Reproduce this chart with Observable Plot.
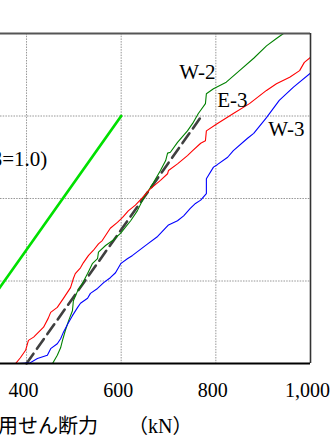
<!DOCTYPE html>
<html>
<head>
<meta charset="utf-8">
<script src="https://cdn.jsdelivr.net/npm/d3@7"></script>
<script src="https://cdn.jsdelivr.net/npm/@observablehq/plot@0.6"></script>
<style>
  html, body { margin: 0; padding: 0; background: white; overflow: hidden; }
  #title { position: relative; margin-left: -22px; height: 32px; line-height: 32px;
           font-family: "Liberation Serif", "Noto Sans CJK JP", serif; font-size: 20px;
           white-space: pre; color: #000; }
</style>
</head>
<body>
<div id="chart"></div>
<div id="title">作用せん断力　　（kN）</div>
<script>
// x: 作用せん断力 (kN), y: unitless response (axis cut off at left)
const xTicks = [400, 600, 800, 1000];
const xGrid = [400, 600, 800];
const yGrid = [1, 2, 3];

const w2X = [345, 455, 465, 472, 476, 482, 489, 497, 499, 508, 518, 529, 539, 550, 552, 567, 582, 599, 620, 634, 647, 658, 668, 683, 694, 698, 704, 719, 740, 751, 763, 768, 778, 780, 795, 822, 850, 880, 907, 928, 943];
const w2Y = [0, 0, 0.10, 0.19, 0.28, 0.40, 0.52, 0.64, 0.76, 0.88, 0.97, 1.09, 1.21, 1.27, 1.35, 1.43, 1.49, 1.58, 1.73, 1.85, 2.00, 2.10, 2.19, 2.34, 2.46, 2.55, 2.56, 2.68, 2.82, 2.91, 3.03, 3.07, 3.15, 3.27, 3.33, 3.41, 3.55, 3.70, 3.85, 3.94, 4.0];

const e3X = [377, 387, 398, 404, 415, 436, 446, 451, 465, 478, 493, 499, 503, 514, 520, 531, 541, 552, 560, 577, 592, 603, 615, 630, 645, 662, 683, 698, 700, 719, 740, 751, 768, 778, 780, 801, 837, 871, 907, 928, 956, 977, 987, 1000];
const e3Y = [0, 0.07, 0.16, 0.28, 0.32, 0.44, 0.55, 0.62, 0.68, 0.79, 0.92, 1.03, 1.09, 1.16, 1.22, 1.31, 1.37, 1.45, 1.49, 1.64, 1.71, 1.77, 1.85, 1.92, 2.01, 2.12, 2.22, 2.30, 2.34, 2.42, 2.52, 2.58, 2.67, 2.70, 2.82, 2.90, 3.03, 3.15, 3.31, 3.39, 3.47, 3.55, 3.65, 3.71];

const w3X = [383, 408, 423, 444, 451, 465, 472, 478, 487, 497, 508, 514, 529, 535, 550, 563, 577, 588, 599, 613, 624, 656, 677, 700, 719, 732, 746, 757, 768, 780, 780, 795, 803, 825, 837, 867, 880, 907, 934, 964, 1000];
const w3Y = [0, 0.01, 0.06, 0.10, 0.18, 0.24, 0.30, 0.38, 0.48, 0.58, 0.68, 0.73, 0.79, 0.85, 0.91, 0.98, 1.04, 1.10, 1.21, 1.27, 1.31, 1.45, 1.54, 1.68, 1.73, 1.79, 1.88, 1.94, 1.98, 2.06, 2.24, 2.38, 2.41, 2.50, 2.58, 2.73, 2.79, 2.98, 3.19, 3.35, 3.52];

const calcX = [230, 600];   // 計算値 (β=1.0)
const calcY = [0, 3.0];
const fitX = [400, 770];    // dashed
const fitY = [0, 3.0];

const labelText = ["W-2", "E-3", "W-3"];
const labelX = [761, 835, 949];
const labelY = [3.53, 3.19, 2.84];
const betaText = ["(β=1.0)"];
const betaX = [444];
const betaY = [2.47];

const toRows = (xs, ys) => xs.map((x, i) => ({x, y: ys[i]}));
const labels = labelText.map((t, i) => ({t, x: labelX[i], y: labelY[i]}));
const beta = betaText.map((t, i) => ({t, x: betaX[i], y: betaY[i]}));

const chart = Plot.plot({
  width: 332,
  height: 410,
  marginLeft: 0,
  marginRight: 22,
  marginTop: 33,
  marginBottom: 47,
  x: {domain: [345, 1000], axis: null},
  y: {domain: [0, 4], axis: null},
  style: {fontFamily: "Liberation Serif, serif", fontSize: "20px", color: "black", background: "white"},
  marks: [
    Plot.ruleX(xGrid, {stroke: "#8a8a8a", strokeWidth: 0.9, strokeDasharray: "1.5,1.2"}),
    Plot.ruleY(yGrid, {stroke: "#8a8a8a", strokeWidth: 0.9, strokeDasharray: "1.5,1.2"}),
    Plot.line(toRows(calcX, calcY), {x: "x", y: "y", stroke: "#00e000", strokeWidth: 2.7, clip: true}),
    Plot.line(toRows(fitX, fitY), {x: "x", y: "y", stroke: "#404040", strokeWidth: 2.6, strokeDasharray: "12,6"}),
    Plot.line(toRows(w2X, w2Y), {x: "x", y: "y", stroke: "#008000", strokeWidth: 1.1, clip: true}),
    Plot.line(toRows(e3X, e3Y), {x: "x", y: "y", stroke: "#ff0000", strokeWidth: 1.1, clip: true}),
    Plot.line(toRows(w3X, w3Y), {x: "x", y: "y", stroke: "#0000ff", strokeWidth: 1.1, clip: true}),
    Plot.ruleY([4], {stroke: "#555", strokeWidth: 2}),
    Plot.ruleX([1000], {stroke: "#333", strokeWidth: 1.6}),
    Plot.ruleY([0], {stroke: "#000", strokeWidth: 2}),
    Plot.axisX(xTicks, {tickSize: 0, tickPadding: 19, tickFormat: d3.format(","), label: null, fontSize: 20, dx: -3}),
    Plot.text(labels, {x: "x", y: "y", text: "t", fontSize: 21, fill: "#000"}),
    Plot.text(beta, {x: "x", y: "y", text: "t", fontSize: 21, fill: "#000", textAnchor: "end"})
  ]
});
document.getElementById("chart").appendChild(chart);
</script>
</body>
</html>
